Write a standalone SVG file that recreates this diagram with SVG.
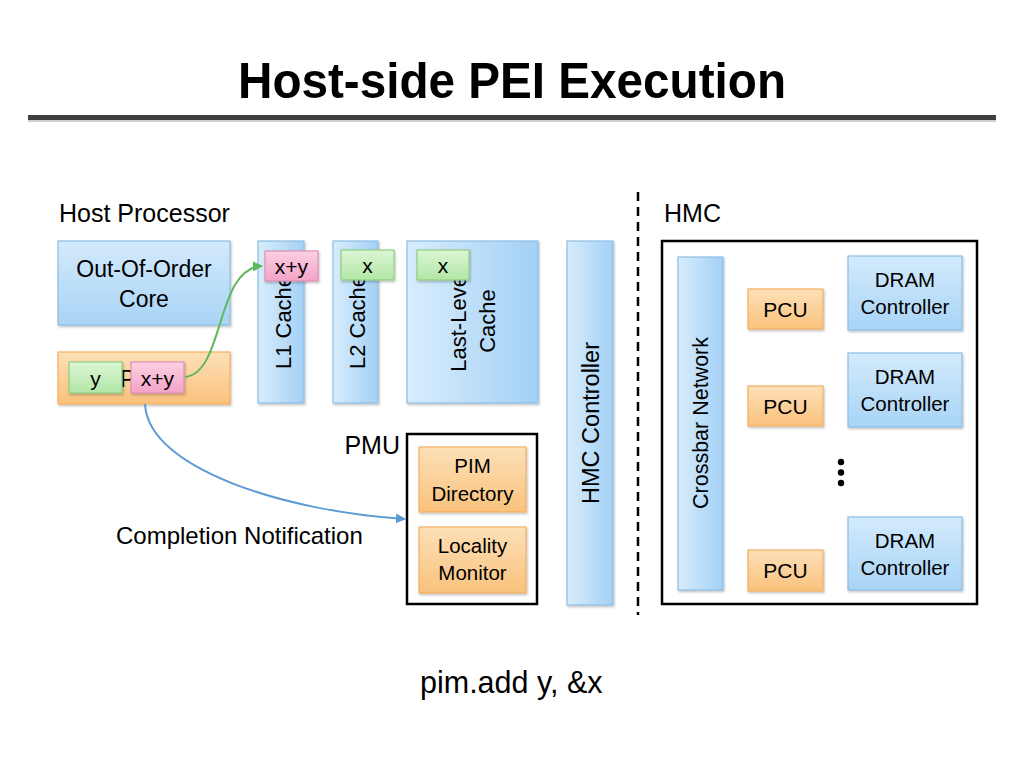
<svg xmlns="http://www.w3.org/2000/svg" width="1024" height="768" viewBox="0 0 1024 768">
<defs>
<linearGradient id="gBlueV" x1="0" y1="0" x2="0" y2="1"><stop offset="0" stop-color="#d3eafc"/><stop offset="1" stop-color="#a8d4f6"/></linearGradient>
<linearGradient id="gBlueH" x1="0" y1="0" x2="1" y2="0"><stop offset="0" stop-color="#d8edfc"/><stop offset="1" stop-color="#a3d0f5"/></linearGradient>
<linearGradient id="gOrange" x1="0" y1="0" x2="0" y2="1"><stop offset="0" stop-color="#fde0b8"/><stop offset="1" stop-color="#f9c27c"/></linearGradient>
<linearGradient id="gPink" x1="0" y1="0" x2="0" y2="1"><stop offset="0" stop-color="#fbd0e3"/><stop offset="1" stop-color="#f3a3c6"/></linearGradient>
<linearGradient id="gGreen" x1="0" y1="0" x2="0" y2="1"><stop offset="0" stop-color="#dcf6d5"/><stop offset="1" stop-color="#b2e6a6"/></linearGradient>
<filter id="sh" x="-10%" y="-10%" width="130%" height="130%"><feDropShadow dx="1" dy="1.5" stdDeviation="1.2" flood-color="#000" flood-opacity="0.25"/></filter>
<marker id="arrG" viewBox="0 0 10 10" refX="9" refY="5" markerWidth="5" markerHeight="5" orient="auto"><path d="M0,0 L10,5 L0,10 z" fill="#5fb95c"/></marker>
<marker id="arrB" viewBox="0 0 10 10" refX="9" refY="5" markerWidth="5" markerHeight="5" orient="auto"><path d="M0,0 L10,5 L0,10 z" fill="#5b9bd5"/></marker>
<style>
text{font-family:"Liberation Sans",Arial,sans-serif;fill:#000}
.blueV{fill:url(#gBlueV);stroke:#8dbde3;stroke-width:1.2;filter:url(#sh)}
.blueH{fill:url(#gBlueH);stroke:#8dbde3;stroke-width:1.2;filter:url(#sh)}
.orange{fill:url(#gOrange);stroke:#f2b063;stroke-width:1.2;filter:url(#sh)}
.pink{fill:url(#gPink);stroke:#de8fb3;stroke-width:1.2;filter:url(#sh)}
.green{fill:url(#gGreen);stroke:#8fcf80;stroke-width:1.2;filter:url(#sh)}
.frame{fill:#fff;stroke:#000;stroke-width:2.5}
.c{text-anchor:middle}
.lbl{font-size:25px}
.box{font-size:20.5px}
</style>
</defs>

<text x="238" y="98" font-size="50" font-weight="bold" textLength="548" lengthAdjust="spacingAndGlyphs">Host-side PEI Execution</text>
<rect x="28" y="119" width="968" height="3" fill="#d0d0d0"/>
<rect x="28" y="115" width="968" height="5" fill="#3f3f3f"/>

<text class="lbl" x="59" y="222">Host Processor</text>
<text class="lbl" x="664" y="222">HMC</text>
<line x1="638" y1="192" x2="638" y2="615" stroke="#000" stroke-width="2.5" stroke-dasharray="9 6"/>

<g id="ooo-core">
<rect class="blueV" x="58" y="241" width="172" height="84"/>
<text class="c" x="144" y="277" font-size="23">Out-Of-Order</text>
<text class="c" x="144" y="307" font-size="23">Core</text>
</g>

<g id="host-pcu">
<rect class="orange" x="58" y="352" width="172" height="52"/>
<text x="120" y="387" font-size="23">P</text>
<rect class="green" x="69" y="362" width="53" height="31"/>
<text class="c" x="95.5" y="386" font-size="21">y</text>
<rect class="pink" x="131" y="362" width="53" height="31"/>
<text class="c" x="157.5" y="386" font-size="21">x+y</text>
</g>

<g id="l1-cache">
<rect class="blueH" x="258" y="241" width="46" height="162"/>
<text class="c" font-size="22" transform="translate(283,322) rotate(-90)" y="8">L1 Cache</text>
<rect class="pink" x="265" y="251" width="53" height="30"/>
<text class="c" x="291.5" y="274" font-size="21">x+y</text>
</g>

<g id="l2-cache">
<rect class="blueH" x="333" y="241" width="45" height="162"/>
<text class="c" font-size="22" transform="translate(357,322) rotate(-90)" y="8">L2 Cache</text>
<rect class="green" x="341" y="250" width="53" height="30"/>
<text class="c" x="367.5" y="273" font-size="21">x</text>
</g>

<g id="llc">
<rect class="blueH" x="407" y="241" width="131" height="162"/>
<text class="c" font-size="22" transform="translate(458,321) rotate(-90)" y="8">Last-Level</text>
<text class="c" font-size="22" transform="translate(487,321) rotate(-90)" y="8">Cache</text>
<rect class="green" x="417" y="250" width="52" height="30"/>
<text class="c" x="443" y="273" font-size="21">x</text>
</g>

<g id="pmu">
<text class="lbl" x="400" y="454" text-anchor="end">PMU</text>
<rect class="frame" x="407" y="434" width="130" height="170"/>
<g id="pim-directory">
<rect class="orange" x="419" y="447" width="107" height="65"/>
<text class="c box" x="472.5" y="473">PIM</text>
<text class="c box" x="472.5" y="501">Directory</text>
</g>
<g id="locality-monitor">
<rect class="orange" x="419" y="527" width="107" height="66"/>
<text class="c box" x="472.5" y="553">Locality</text>
<text class="c box" x="472.5" y="580">Monitor</text>
</g>
</g>

<g id="hmc-controller">
<rect class="blueH" x="567" y="241" width="46" height="364"/>
<text class="c" font-size="23.5" transform="translate(590,423) rotate(-90)" y="8.5">HMC Controller</text>
</g>

<g id="hmc">
<rect class="frame" x="662" y="241" width="315" height="363" stroke-width="3"/>
<g id="crossbar">
<rect class="blueH" x="678" y="257" width="45" height="333"/>
<text class="c" font-size="21.5" transform="translate(700,423) rotate(-90)" y="7.5">Crossbar Network</text>
</g>
<g id="pcu1"><rect class="orange" x="748" y="289" width="75" height="40"/><text class="c" x="785.5" y="317" font-size="21">PCU</text></g>
<g id="pcu2"><rect class="orange" x="748" y="386" width="75" height="40"/><text class="c" x="785.5" y="414" font-size="21">PCU</text></g>
<g id="pcu3"><rect class="orange" x="748" y="550" width="75" height="41"/><text class="c" x="785.5" y="578" font-size="21">PCU</text></g>
<g id="dram1"><rect class="blueV" x="848" y="256" width="114" height="74"/><text class="c box" x="905" y="287">DRAM</text><text class="c box" x="905" y="314">Controller</text></g>
<g id="dram2"><rect class="blueV" x="848" y="353" width="114" height="74"/><text class="c box" x="905" y="384">DRAM</text><text class="c box" x="905" y="411">Controller</text></g>
<g id="dram3"><rect class="blueV" x="848" y="517" width="114" height="73"/><text class="c box" x="905" y="548">DRAM</text><text class="c box" x="905" y="575">Controller</text></g>
<circle cx="841" cy="462" r="3.2"/>
<circle cx="841" cy="472.5" r="3.2"/>
<circle cx="841" cy="483" r="3.2"/>
</g>

<g id="connectors" fill="none" stroke-width="2">
<path d="M185,377 C225,373 215,268 262,266" stroke="#5fb95c" marker-end="url(#arrG)"/>
<path d="M145,404 C148,470 290,512 405,519" stroke="#5b9bd5" marker-end="url(#arrB)"/>
</g>

<text x="116" y="544" font-size="24">Completion Notification</text>
<text x="420" y="693" font-size="30.5">pim.add y, &amp;x</text>
</svg>
